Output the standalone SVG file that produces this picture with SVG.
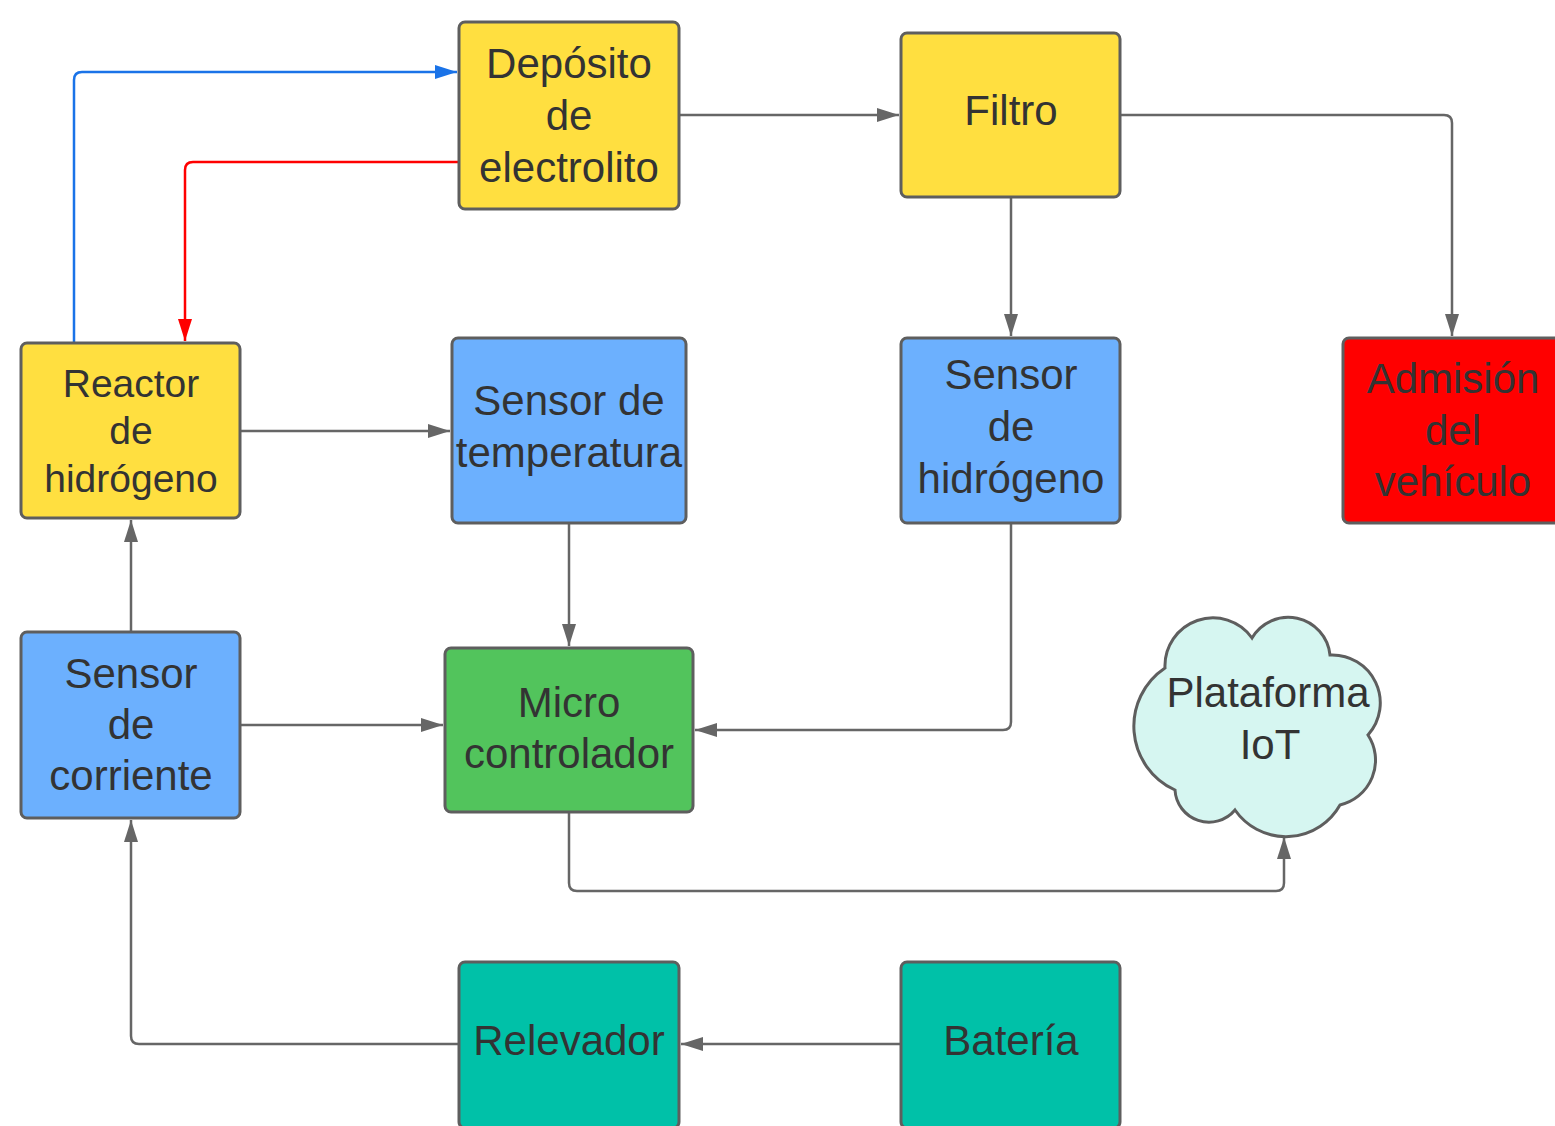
<svg xmlns="http://www.w3.org/2000/svg" width="1555" height="1126" viewBox="0 0 1555 1126">
<style>
.box{stroke:#5e5e5e;stroke-width:3}
.y{fill:#ffdf40}.b{fill:#6cb0fe}.r{fill:#ff0000}.g{fill:#52c45c}.t{fill:#00c1a8}.c{fill:#d6f6f1}
text{font-family:"Liberation Sans",Arial,sans-serif;font-size:42px;fill:#333;text-anchor:middle}
.sm{font-size:39px}
.ln{fill:none;stroke:#666;stroke-width:2.5}
</style>
<defs>
<marker id="ag" markerUnits="userSpaceOnUse" markerWidth="22" markerHeight="14" refX="22" refY="7" orient="auto"><path d="M0,0 L22,7 L0,14 z" fill="#666"/></marker>
<marker id="ab" markerUnits="userSpaceOnUse" markerWidth="22" markerHeight="14" refX="22" refY="7" orient="auto"><path d="M0,0 L22,7 L0,14 z" fill="#1a73e8"/></marker>
<marker id="ar" markerUnits="userSpaceOnUse" markerWidth="22" markerHeight="14" refX="22" refY="7" orient="auto"><path d="M0,0 L22,7 L0,14 z" fill="#ff0000"/></marker>
</defs>
<rect width="1555" height="1126" fill="#fff"/>
<g id="connectors">
<path class="ln" d="M679,115 H899" marker-end="url(#ag)"/>
<path class="ln" d="M1120,115 H1444 Q1452,115 1452,123 V336" marker-end="url(#ag)"/>
<path class="ln" d="M1011,197 V336" marker-end="url(#ag)"/>
<path class="ln" d="M240,431 H450" marker-end="url(#ag)"/>
<path class="ln" d="M569,523 V646" marker-end="url(#ag)"/>
<path class="ln" d="M1011,523 V722 Q1011,730 1003,730 H695" marker-end="url(#ag)"/>
<path class="ln" d="M240,725 H443" marker-end="url(#ag)"/>
<path class="ln" d="M131,632 V520" marker-end="url(#ag)"/>
<path class="ln" d="M569,812 V883 Q569,891 577,891 H1276 Q1284,891 1284,883 V837" marker-end="url(#ag)"/>
<path class="ln" d="M901,1044 H681" marker-end="url(#ag)"/>
<path class="ln" d="M459,1044 H139 Q131,1044 131,1036 V820" marker-end="url(#ag)"/>
<path d="M74,343 V80 Q74,72 82,72 H457" fill="none" stroke="#1a73e8" stroke-width="2.5" marker-end="url(#ab)"/>
<path d="M459,162 H193 Q185,162 185,170 V341" fill="none" stroke="#ff0000" stroke-width="2.5" marker-end="url(#ar)"/>
</g>
<g id="deposito"><rect class="box y" x="459" y="22" width="220" height="187" rx="6"/><text x="569" y="78">Depósito</text><text x="569" y="130">de</text><text x="569" y="182">electrolito</text></g>
<g id="filtro"><rect class="box y" x="901" y="33" width="219" height="164" rx="6"/><text x="1011" y="125">Filtro</text></g>
<g id="reactor"><rect class="box y" x="21" y="343" width="219" height="175" rx="6"/><text class="sm" x="131" y="397">Reactor</text><text class="sm" x="131" y="444">de</text><text class="sm" x="131" y="492">hidrógeno</text></g>
<g id="sensor-temperatura"><rect class="box b" x="452" y="338" width="234" height="185" rx="6"/><text x="569" y="415">Sensor de</text><text x="569" y="467">temperatura</text></g>
<g id="sensor-hidrogeno"><rect class="box b" x="901" y="338" width="219" height="185" rx="6"/><text x="1011" y="389">Sensor</text><text x="1011" y="441">de</text><text x="1011" y="493">hidrógeno</text></g>
<g id="admision"><rect class="box r" x="1343" y="338" width="222" height="185" rx="6"/><text x="1453" y="393">Admisión</text><text x="1453" y="445">del</text><text x="1453" y="496">vehículo</text></g>
<g id="sensor-corriente"><rect class="box b" x="21" y="632" width="219" height="186" rx="6"/><text x="131" y="688">Sensor</text><text x="131" y="739">de</text><text x="131" y="790">corriente</text></g>
<g id="microcontrolador"><rect class="box g" x="445" y="648" width="248" height="164" rx="6"/><text x="569" y="717">Micro</text><text x="569" y="768">controlador</text></g>
<g id="plataforma-iot"><path class="box c" d="M1165,668 A48,48 0 0 1 1252,638 A42,42 0 0 1 1330,655 A48,48 0 0 1 1368,735 A46,46 0 0 1 1340,805 A62,62 0 0 1 1235,810 A34,34 0 0 1 1175,790 A70,70 0 0 1 1165,668 Z"/><text x="1268" y="707">Plataforma</text><text x="1270" y="759">IoT</text></g>
<g id="relevador"><rect class="box t" x="459" y="962" width="220" height="166" rx="6"/><text x="569" y="1055">Relevador</text></g>
<g id="bateria"><rect class="box t" x="901" y="962" width="219" height="166" rx="6"/><text x="1011" y="1055">Batería</text></g>
</svg>
